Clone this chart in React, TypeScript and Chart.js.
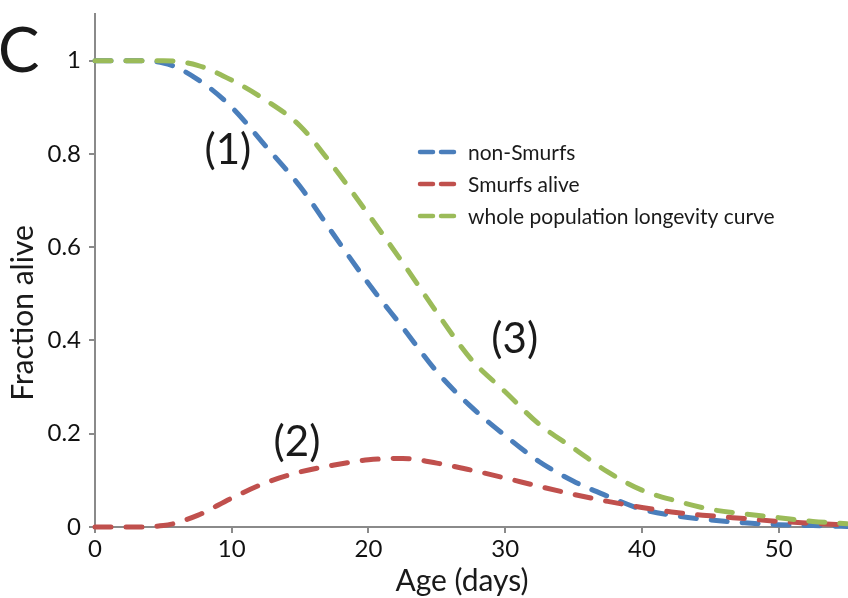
import React, { useEffect, useRef } from "react";
import { Chart, registerables } from "chart.js";

Chart.register(...registerables);

const days = [0, 2.5, 5, 7.5, 10, 12.5, 15, 17.5, 20, 22.5, 25, 27.5, 30, 32.5, 35, 37.5, 40, 42.5, 45, 47.5, 50, 52.5, 55];
const nonSmurfs = [1, 1, 0.995, 0.96, 0.9, 0.816, 0.73, 0.625, 0.522, 0.428, 0.333, 0.258, 0.196, 0.14, 0.098, 0.066, 0.038, 0.024, 0.015, 0.009, 0.005, 0.003, 0.001];
const smurfsAlive = [0, 0, 0.003, 0.025, 0.062, 0.095, 0.118, 0.133, 0.144, 0.147, 0.137, 0.122, 0.105, 0.087, 0.07, 0.055, 0.042, 0.031, 0.024, 0.018, 0.012, 0.008, 0.004];
const wholePopulation = [1, 1, 1, 0.99, 0.958, 0.915, 0.86, 0.77, 0.67, 0.567, 0.46, 0.36, 0.29, 0.22, 0.169, 0.118, 0.079, 0.056, 0.038, 0.028, 0.02, 0.012, 0.007];
const seriesNames = ["non-Smurfs", "Smurfs alive", "whole population longevity curve"];
const seriesColors = ["#4a7ebb", "#c0504d", "#9bbb59"];
const seriesOrder = [2, 1, 0];
const xTicks = [0, 10, 20, 30, 40, 50];
const yTicks = [0, 0.2, 0.4, 0.6, 0.8, 1];
const curveLabels = [
  { text: "(1)", x: 9.72, y: 0.807 },
  { text: "(2)", x: 14.77, y: 0.182 },
  { text: "(3)", x: 30.7, y: 0.403 },
];

const FONT = "Lato, 'Open Sans', sans-serif";
const AXIS = "#8a8a8a";

const overlay = {
  id: "overlay",
  afterDraw(chart: any) {
    const ctx = chart.ctx;
    const xs = chart.scales.x;
    const ys = chart.scales.y;
    ctx.save();
    ctx.fillStyle = "#1a1a1a";
    // panel letter
    ctx.font = `62px ${FONT}`;
    ctx.textAlign = "left";
    ctx.textBaseline = "middle";
    ctx.fillText("C", -2, 52);
    // curve labels
    ctx.font = `42px ${FONT}`;
    ctx.textAlign = "center";
    curveLabels.forEach((l) => {
      ctx.fillText(l.text, xs.getPixelForValue(l.x), ys.getPixelForValue(l.y));
    });
    // axis titles
    ctx.font = `30px ${FONT}`;
    ctx.textBaseline = "alphabetic";
    ctx.fillText("Age (days)", 462, 591);
    ctx.save();
    ctx.translate(33, 313);
    ctx.rotate(-Math.PI / 2);
    ctx.fillText("Fraction alive", 0, 0);
    ctx.restore();
    // legend
    ctx.font = `21px ${FONT}`;
    ctx.textAlign = "left";
    ctx.textBaseline = "middle";
    const rows = [152, 184, 216];
    rows.forEach((yy, i) => {
      ctx.strokeStyle = seriesColors[i];
      ctx.lineWidth = 4.5;
      ctx.lineCap = "round";
      ctx.beginPath();
      ctx.moveTo(420, yy);
      ctx.lineTo(433, yy);
      ctx.moveTo(441, yy);
      ctx.lineTo(454, yy);
      ctx.stroke();
      ctx.fillStyle = "#1a1a1a";
      ctx.fillText(seriesNames[i], 468, yy + 1);
    });
    ctx.restore();
  },
};

export default function App() {
  const ref = useRef<HTMLCanvasElement>(null);
  useEffect(() => {
    if (!ref.current) return;
    const series = [nonSmurfs, smurfsAlive, wholePopulation];
    const chart = new Chart(ref.current, {
      type: "line",
      data: {
        labels: days,
        datasets: series.map((vals, i) => ({
          label: seriesNames[i],
          data: vals.map((v, j) => ({ x: days[j], y: v })),
          borderColor: seriesColors[i],
          backgroundColor: seriesColors[i],
          borderWidth: 5,
          borderDash: [16, 15],
          borderCapStyle: "round" as const,
          pointRadius: 0,
          cubicInterpolationMode: "monotone" as const,
          fill: false,
          clip: 8,
          order: seriesOrder[i],
        })),
      },
      options: {
        responsive: false,
        animation: false,
        maintainAspectRatio: false,
        layout: { padding: { top: 14, right: 1, left: 0, bottom: 0 } },
        plugins: { legend: { display: false }, tooltip: { enabled: false } },
        scales: {
          x: {
            type: "linear",
            min: 0,
            max: 55,
            afterBuildTicks: (s: any) => {
              s.ticks = xTicks.map((v) => ({ value: v }));
            },
            afterFit: (s: any) => {
              s.height = 71;
              s.paddingLeft = 0;
              s.paddingRight = 0;
            },
            border: { display: true, color: AXIS, width: 2 },
            grid: { display: true, drawOnChartArea: false, drawTicks: true, tickLength: 6, color: AXIS, lineWidth: 2 },
            ticks: { color: "#111", font: { family: FONT, size: 24 }, padding: 2, maxRotation: 0, autoSkip: false },
          },
          y: {
            type: "linear",
            min: 0,
            max: 1.1,
            afterBuildTicks: (s: any) => {
              s.ticks = yTicks.map((v) => ({ value: v }));
            },
            afterFit: (s: any) => {
              s.width = 95;
              s.paddingTop = 0;
              s.paddingBottom = 0;
            },
            border: { display: true, color: AXIS, width: 2 },
            grid: { display: true, drawOnChartArea: false, drawTicks: true, tickLength: 6, color: AXIS, lineWidth: 2 },
            ticks: {
              color: "#111",
              font: { family: FONT, size: 24 },
              padding: 8,
              callback: (v: any) => String(Math.round(Number(v) * 10) / 10),
            },
          },
        },
      },
      plugins: [overlay],
    });
    return () => chart.destroy();
  }, []);
  return (
    <div style={{ position: "fixed", left: 0, top: 0, width: 848, height: 598, background: "#fff" }}>
      <canvas ref={ref} width={848} height={598} style={{ width: 848, height: 598 }} />
    </div>
  );
}
